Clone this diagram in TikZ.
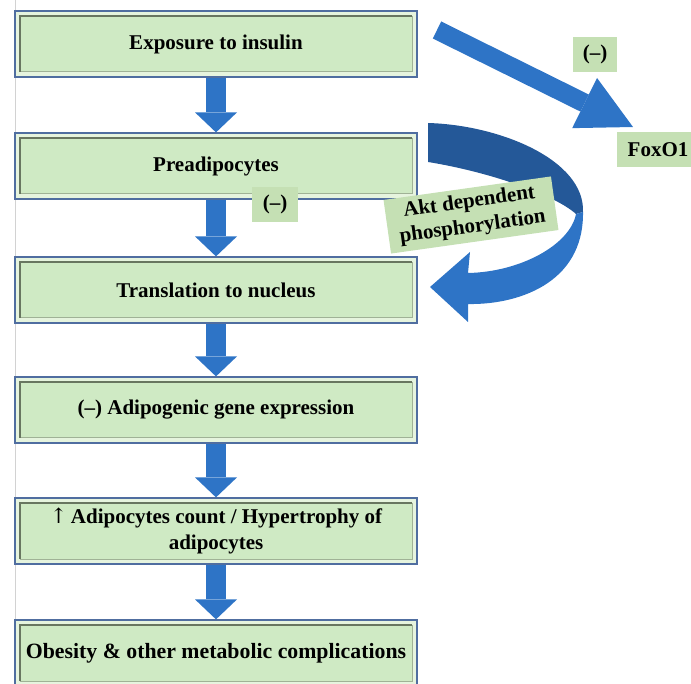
\documentclass[tikz,border=0pt]{standalone}
\usepackage{fontspec}
\setmainfont{Liberation Serif}
\newfontfamily\arrowfont{DejaVu Serif}
\usetikzlibrary{arrows.meta}

\definecolor{boxgreen}{RGB}{207,234,196}
\definecolor{framegreen}{RGB}{230,244,222}
\definecolor{tagreen}{RGB}{197,224,180}
\definecolor{boxedge}{RGB}{80,110,160}
\definecolor{bevdark}{RGB}{104,118,96}
\definecolor{bevmid}{RGB}{160,178,150}
\definecolor{arrowblue}{RGB}{46,116,198}
\definecolor{ribbondark}{RGB}{36,88,152}

\begin{document}
\begin{tikzpicture}[x=1pt, y=1pt,
  flowbox/.style={draw=boxedge, line width=1.2pt, fill=boxgreen,
    minimum width=402, minimum height=66, text width=392, inner xsep=5,
    align=flush center, font=\bfseries\fontsize{21}{26}\selectfont,
    path picture={
      \fill[framegreen] (path picture bounding box.south west) rectangle (path picture bounding box.north east);
      \fill[boxgreen] ([shift={(5,5)}]path picture bounding box.south west) rectangle ([shift={(-5,-5)}]path picture bounding box.north east);
      \draw[bevmid, line width=1pt] ([shift={(5,5)}]path picture bounding box.south west) -| ([shift={(-5,-5)}]path picture bounding box.north east);
      \draw[bevdark, line width=1.8pt] ([shift={(5,5)}]path picture bounding box.south west) |- ([shift={(-5,-5)}]path picture bounding box.north east);
    }},
  tag/.style={fill=tagreen, minimum height=35, inner xsep=10,
    font=\bfseries\fontsize{21}{25}\selectfont},
  blockarrow/.style={arrowblue, line width=20pt,
    -{Triangle[width=42pt, length=20pt, line width=0pt]}}
]
\useasboundingbox (0,0) rectangle (691,-684);
\draw[gray!35, line width=0.6pt] (15,0) -- (15,-684);

% Main chain
\node[flowbox] (exposure) at (216,-44)  {Exposure to insulin};
\node[flowbox] (preadipo) at (216,-166) {Preadipocytes};
\node[flowbox] (transl)   at (216,-290) {Translation to nucleus};
\node[flowbox] (adipogen) at (216,-410) {(–) Adipogenic gene expression};
\node[flowbox] (adipocnt) at (216,-531) {{\arrowfont\mdseries ↑}\,Adipocytes count / Hypertrophy of\\adipocytes};
\node[flowbox, font=\bfseries\fontsize{21.8}{26}\selectfont] (obesity) at (216,-653) {Obesity \& other metabolic complications};

\foreach \a/\b in {exposure/preadipo, preadipo/transl, transl/adipogen, adipogen/adipocnt, adipocnt/obesity} {
  \draw[blockarrow] (\a) -- (\b);
}

% Side branch to FoxO1
\coordinate (fromins) at (437,-30);
\coordinate (tofox) at (633,-127);
\draw[arrowblue, line width=19pt, -{Triangle[width=56pt, length=54pt, line width=0pt]}] (fromins) -- (tofox);

% Curved arrow (back side, then front side with head)
\fill[ribbondark] (428,-123) .. controls (500,-125) and (585,-160) .. (583,-212)
  -- (576,-214) .. controls (555,-195) and (490,-172) .. (428,-162) -- cycle;
\fill[arrowblue] (583,-212) .. controls (584,-285) and (515,-305) .. (468,-304)
  -- (468,-322) -- (430,-287) -- (470,-252) -- (468,-273)
  .. controls (520,-272) and (570,-245) .. (576,-214) -- cycle;

% Labels
\node[tag, minimum width=46] (inhibpre) at (275,-204.5) {(–)};
\node[tag, minimum width=44] (inhibfox) at (595,-54.5) {(–)};
\node[tag, minimum width=82] (foxo) at (658,-149.5) {FoxO1};
\node[tag, rotate=8, align=center, inner xsep=11, inner ysep=5] (akt) at (471,-215) {Akt dependent\\phosphorylation};
\end{tikzpicture}
\end{document}
